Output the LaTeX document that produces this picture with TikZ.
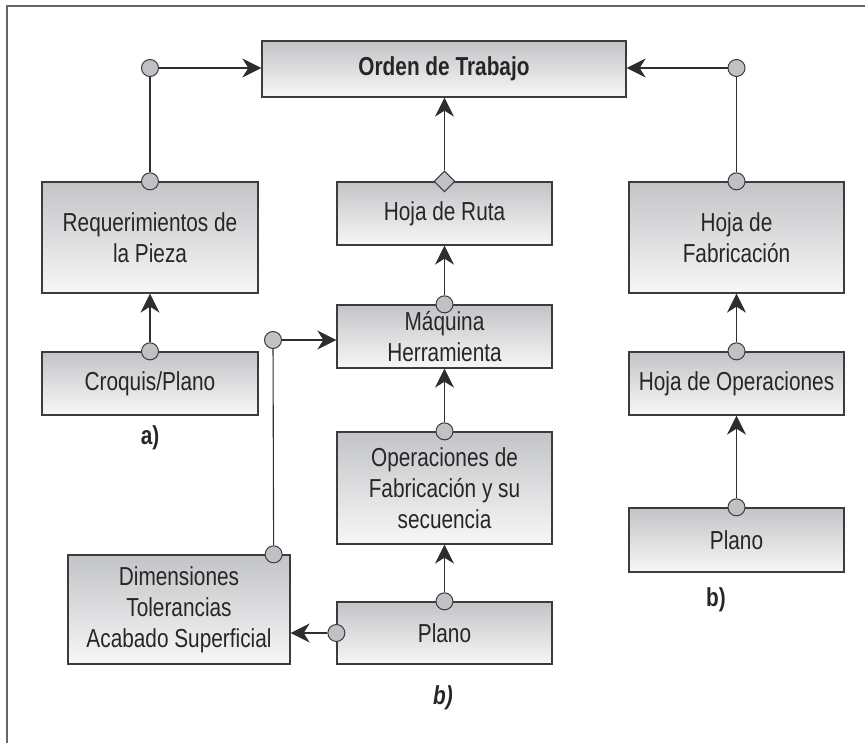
\documentclass[tikz,border=0pt]{standalone}
\usepackage{fontspec}
\setmainfont{Liberation Sans}[FakeStretch=0.8]
\usetikzlibrary{arrows.meta,shapes.geometric,calc}

\definecolor{boxtop}{HTML}{C3C4C7}
\definecolor{boxbot}{HTML}{F7F7F7}
\definecolor{boxline}{HTML}{3C3C3C}
\definecolor{portfill}{HTML}{C0C1C5}
\definecolor{linkcol}{HTML}{2E2E2E}
\definecolor{framecol}{HTML}{666666}

\tikzset{
  box/.style={draw=boxline, line width=1.3pt, top color=boxtop, bottom color=boxbot,
    inner sep=0pt, align=center, font=\fontsize{26}{31}\selectfont, text=black!85},
  port/.style={circle, draw=boxline, fill=portfill, line width=1pt,
    minimum size=17pt, inner sep=0pt},
  gem/.style={diamond, draw=boxline, fill=portfill, line width=1pt,
    minimum size=21pt, inner sep=0pt},
  link/.style={draw=linkcol, line width=1.1pt},
  flow/.style={link, -{Stealth[length=19pt,width=19pt,inset=6pt]}},
  tag/.style={font=\fontsize{26}{31}\selectfont\bfseries, text=black!85},
}

\begin{document}
\begin{tikzpicture}[x={(1pt,0pt)}, y={(0pt,-1pt)}]
\useasboundingbox (0,0) rectangle (865,743);

% outer frame (top and left edges)
\draw[framecol, line width=2pt] (7,743) -- (7,6) -- (865,6);

% boxes
\node[box, minimum width=364pt, minimum height=56pt] (ord) at (444,69) {\bfseries Orden de Trabajo};
\node[box, minimum width=216pt, minimum height=111pt] (req) at (150,237.5) {Requerimientos de\\la Pieza};
\node[box, minimum width=215pt, minimum height=63pt] (ruta) at (444.5,213.5) {Hoja de Ruta};
\node[box, minimum width=215pt, minimum height=111pt] (fab) at (736.5,237.5) {Hoja de\\Fabricación};
\node[box, minimum width=215pt, minimum height=63pt] (maq) at (444.5,336.5) {Máquina\\Herramienta};
\node[box, minimum width=216pt, minimum height=63pt] (croq) at (150,383.5) {Croquis/Plano};
\node[box, minimum width=215pt, minimum height=63pt] (hop) at (736.5,383.5) {Hoja de Operaciones};
\node[box, minimum width=215pt, minimum height=112pt] (opf) at (444.5,488) {Operaciones de\\Fabricación y su\\secuencia};
\node[box, minimum width=215pt, minimum height=64pt] (planoR) at (736.5,540) {Plano};
\node[box, minimum width=222pt, minimum height=109pt] (dim) at (179,609.5) {Dimensiones\\Tolerancias\\Acabado Superficial};
\node[box, minimum width=215pt, minimum height=62pt] (planoC) at (444.5,633) {Plano};

% labels
\node[tag] (la) at (150,438) {a)};
\node[tag] (lb) at (716,600) {b)};
\node[tag, font=\fontsize{26}{31}\selectfont\bfseries\itshape] (lc) at (443,698) {b)};

% connection ports
\node[port] (pReq) at (req.north) {};
\node[port] (pReqC) at (150,68) {};
\node[port] (pFab) at (fab.north) {};
\node[port] (pFabC) at (736.5,68) {};
\node[gem] (dRuta) at (ruta.north) {};
\node[port] (pMaq) at (maq.north) {};
\node[port] (pCroq) at (croq.north) {};
\node[port] (pOpf) at (opf.north) {};
\node[port] (pHop) at (hop.north) {};
\node[port] (pPlR) at (planoR.north) {};
\node[port] (pPlC) at (planoC.north) {};
\node[port] (pPlW) at (planoC.west) {};
\node[port] (pDim) at ($(dim.north east)+(-17,0)$) {};
\node[port] (pDimC) at (273,340) {};

% connectors
\draw[link] (pReq) -- (pReqC);
\draw[flow] (pReqC) -- (pReqC -| ord.west);
\draw[link] (pFab) -- (pFabC);
\draw[flow] (pFabC) -- (pFabC -| ord.east);
\draw[flow] (dRuta) -- (dRuta |- ord.south);
\draw[flow] (pMaq) -- (pMaq |- ruta.south);
\draw[flow] (pCroq) -- (pCroq |- req.south);
\draw[flow] (pOpf) -- (pOpf |- maq.south);
\draw[flow] (pPlC) -- (pPlC |- opf.south);
\draw[flow] (pPlW) -- (pPlW -| dim.east);
\draw[link] (pDim) -- (pDimC);
\draw[flow] (pDimC) -- (pDimC -| maq.west);
\draw[flow] (pHop) -- (pHop |- fab.south);
\draw[flow] (pPlR) -- (pPlR |- hop.south);
\end{tikzpicture}
\end{document}
